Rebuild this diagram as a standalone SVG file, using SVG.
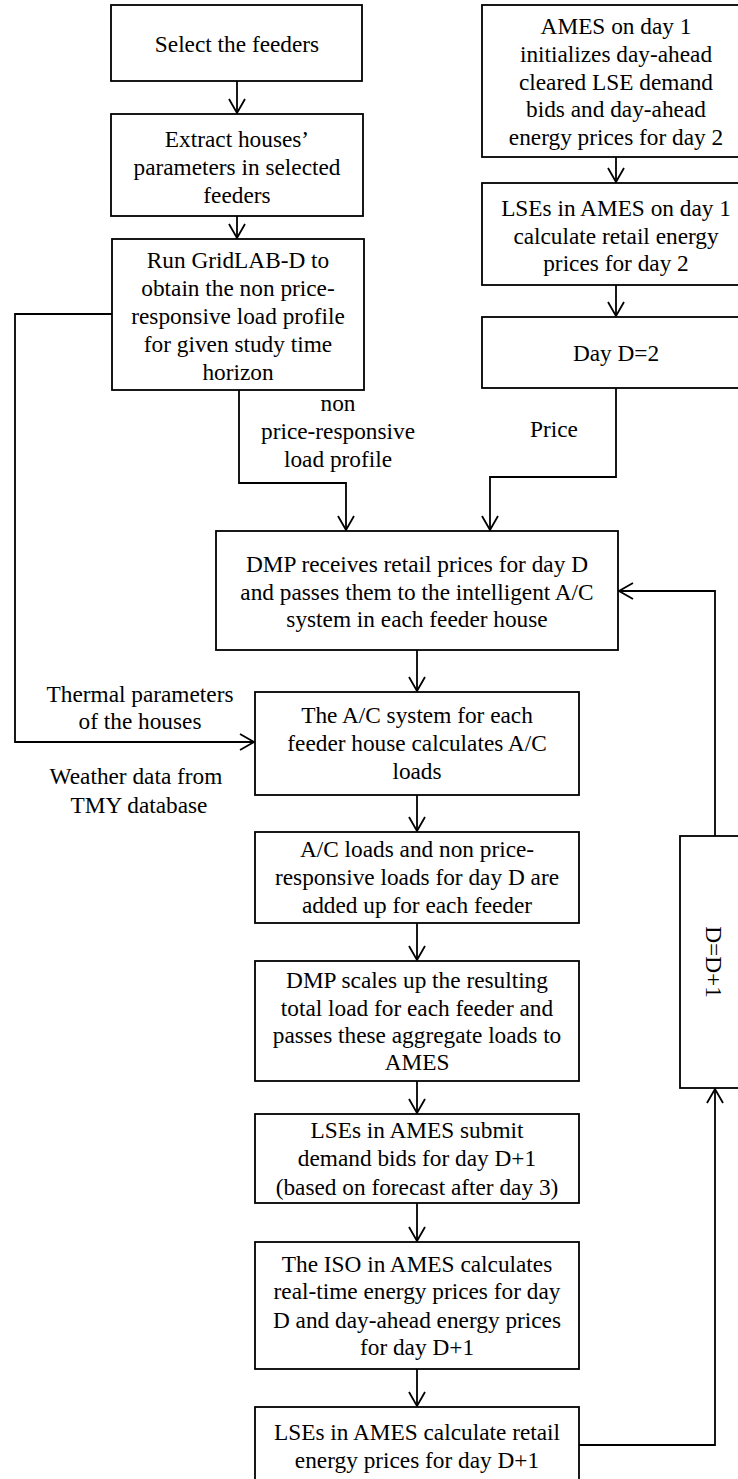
<svg xmlns="http://www.w3.org/2000/svg" width="738" height="1479" viewBox="0 0 738 1479">
<style>
.box{fill:#fff;stroke:#000;stroke-width:1.8}
text{font-family:'Liberation Serif','Times New Roman',Times,'Nimbus Roman','DejaVu Serif',serif;font-size:23.3px;fill:#000;text-anchor:middle}
.c{fill:none;stroke:#000;stroke-width:1.8}
.ah{fill:none;stroke:#000;stroke-width:1.8}
</style>
<defs>
<marker id="arr" viewBox="-16 -10 18 20" refX="0" refY="0" markerWidth="18" markerHeight="20" markerUnits="userSpaceOnUse" orient="auto">
<path d="M-14,-8 L0,0 L-14,8" class="ah"/>
</marker>
</defs>
<rect width="738" height="1479" fill="#fff"/>
<g id="connectors">
<line class="c" x1="237" y1="81" x2="237" y2="113" marker-end="url(#arr)"/>
<line class="c" x1="237" y1="216" x2="237" y2="238" marker-end="url(#arr)"/>
<line class="c" x1="616" y1="157" x2="616" y2="182" marker-end="url(#arr)"/>
<line class="c" x1="616" y1="285" x2="616" y2="316" marker-end="url(#arr)"/>
<polyline class="c" points="239,390 239,483 346,483 346,530" marker-end="url(#arr)"/>
<polyline class="c" points="616,388 616,477 490,477 490,530" marker-end="url(#arr)"/>
<polyline class="c" points="112,314 15,314 15,742 254,742" marker-end="url(#arr)"/>
<line class="c" x1="417" y1="650" x2="417" y2="691" marker-end="url(#arr)"/>
<line class="c" x1="417" y1="795" x2="417" y2="831" marker-end="url(#arr)"/>
<line class="c" x1="417" y1="923" x2="417" y2="960" marker-end="url(#arr)"/>
<line class="c" x1="417" y1="1081" x2="417" y2="1113" marker-end="url(#arr)"/>
<line class="c" x1="417" y1="1203" x2="417" y2="1241" marker-end="url(#arr)"/>
<line class="c" x1="417" y1="1369" x2="417" y2="1406" marker-end="url(#arr)"/>
<polyline class="c" points="579,1445 715,1445 715,1089" marker-end="url(#arr)"/>
<polyline class="c" points="715,836 715,591 619,591" marker-end="url(#arr)"/>
<text x="338" y="411">non</text>
<text x="338" y="439">price-responsive</text>
<text x="338" y="467">load profile</text>
<text x="554" y="437">Price</text>
<text x="140" y="702">Thermal parameters</text>
<text x="140" y="729">of the houses</text>
<text x="136" y="784">Weather data from</text>
<text x="139" y="813">TMY database</text>
</g>
<g id="n1"><rect class="box" x="111" y="5" width="251" height="76"/><text x="237" y="52">Select the feeders</text></g>
<g id="n2"><rect class="box" x="111" y="114" width="252" height="102"/>
<text x="237" y="147">Extract houses’</text><text x="237" y="175">parameters in selected</text><text x="237" y="203">feeders</text></g>
<g id="n3"><rect class="box" x="112" y="239" width="252" height="151"/>
<text x="238" y="268">Run GridLAB-D to</text><text x="238" y="296">obtain the non price-</text><text x="238" y="324">responsive load profile</text><text x="238" y="352">for given study time</text><text x="238" y="380">horizon</text></g>
<g id="n4"><rect class="box" x="482" y="5" width="270" height="152"/>
<text x="616" y="34">AMES on day 1</text><text x="616" y="62">initializes day-ahead</text><text x="616" y="90">cleared LSE demand</text><text x="616" y="117">bids and day-ahead</text><text x="616" y="145">energy prices for day 2</text></g>
<g id="n5"><rect class="box" x="482" y="183" width="270" height="102"/>
<text x="616" y="216">LSEs in AMES on day 1</text><text x="616" y="244">calculate retail energy</text><text x="616" y="271">prices for day 2</text></g>
<g id="n6"><rect class="box" x="482" y="317" width="270" height="71"/>
<text x="616" y="361">Day D=2</text></g>
<g id="n7"><rect class="box" x="216" y="531" width="402" height="119"/>
<text x="417" y="572">DMP receives retail prices for day D</text><text x="417" y="600">and passes them to the intelligent A/C</text><text x="417" y="627">system in each feeder house</text></g>
<g id="n8"><rect class="box" x="255" y="692" width="324" height="103"/>
<text x="417" y="723">The A/C system for each</text><text x="417" y="751">feeder house calculates A/C</text><text x="417" y="779">loads</text></g>
<g id="n9"><rect class="box" x="255" y="832" width="324" height="91"/>
<text x="417" y="857">A/C loads and non price-</text><text x="417" y="885">responsive loads for day D are</text><text x="417" y="913">added up for each feeder</text></g>
<g id="n10"><rect class="box" x="255" y="961" width="324" height="120"/>
<text x="417" y="988">DMP scales up the resulting</text><text x="417" y="1016">total load for each feeder and</text><text x="417" y="1043">passes these aggregate loads to</text><text x="417" y="1070">AMES</text></g>
<g id="n11"><rect class="box" x="255" y="1114" width="324" height="89"/>
<text x="417" y="1138">LSEs in AMES submit</text><text x="417" y="1166">demand bids for day D+1</text><text x="417" y="1195">(based on forecast after day 3)</text></g>
<g id="n12"><rect class="box" x="255" y="1242" width="324" height="127"/>
<text x="417" y="1272">The ISO in AMES calculates</text><text x="417" y="1299">real-time energy prices for day</text><text x="417" y="1328">D and day-ahead energy prices</text><text x="417" y="1355">for day D+1</text></g>
<g id="n13"><rect class="box" x="255" y="1407" width="324" height="90"/>
<text x="417" y="1440">LSEs in AMES calculate retail</text><text x="417" y="1468">energy prices for day D+1</text></g>
<g id="n14"><rect class="box" x="680" y="836" width="72" height="252"/>
<text transform="translate(714,962) rotate(90)" x="0" y="8">D=D+1</text></g>
</svg>
